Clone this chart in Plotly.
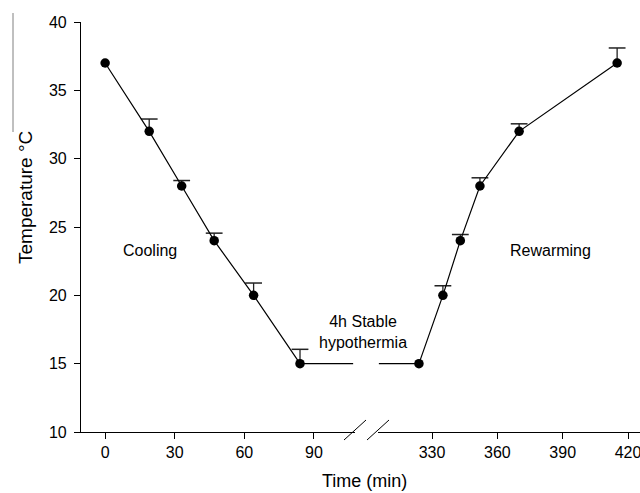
import plotly.graph_objects as go

# ---- data ----
cool_time = [0, 19, 33, 47, 64, 84]
cool_temp = [37, 32, 28, 24, 20, 15]
cool_err = [0, 0.9, 0.4, 0.55, 0.9, 1.05]

rewarm_time = [324, 335, 343, 352, 370, 415]
rewarm_temp = [15, 20, 24, 28, 32, 37]
rewarm_err = [0, 0.7, 0.45, 0.6, 0.55, 1.1]

left_ticks = [0, 30, 60, 90]
right_ticks = [330, 360, 390, 420]
y_ticks = [10, 15, 20, 25, 30, 35, 40]

left_range = [-10.4, 107.7]
right_range = [305.2, 425.5]

FONT = "Arial, Liberation Sans, sans-serif"
W, H = 640, 493
ML, MR, MT, MB = 81, 0, 22, 61
PW = W - ML - MR
PH = H - MT - MB

def px(p):
    return (p - ML) / PW

def py(q):
    return (H - MB - q) / PH

left_dom = [0, px(355)]
right_dom = [px(378), 1]

fig = go.Figure()

def add_series(t, v, e, xa):
    # error stems (upper only)
    fig.add_trace(go.Scatter(
        x=t, y=v, xaxis=xa, yaxis="y", mode="markers",
        marker=dict(size=1, color="rgba(0,0,0,0)"),
        error_y=dict(type="data", symmetric=False, array=e,
                     arrayminus=[0] * len(e), width=0,
                     thickness=1.3, color="#222"),
        showlegend=False, hoverinfo="skip"))
    # caps
    tops = [a + b for a, b in zip(v, e)]
    ct = [a for a, b in zip(t, e) if b > 0]
    cv = [a for a, b in zip(tops, e) if b > 0]
    fig.add_trace(go.Scatter(
        x=ct, y=cv, xaxis=xa, yaxis="y", mode="markers",
        marker=dict(symbol="line-ew", size=12,
                    line=dict(width=1.5, color="#222")),
        showlegend=False, hoverinfo="skip", cliponaxis=False))
    # line + points
    fig.add_trace(go.Scatter(
        x=t, y=v, xaxis=xa, yaxis="y", mode="lines+markers",
        line=dict(color="black", width=1.2),
        marker=dict(size=9.5, color="black"),
        showlegend=False, cliponaxis=False))

# stable-hypothermia plateau lines
fig.add_trace(go.Scatter(
    x=[cool_time[-1], left_range[1] - 0.8], y=[cool_temp[-1]] * 2,
    xaxis="x", yaxis="y", mode="lines",
    line=dict(color="black", width=1.2), showlegend=False))
fig.add_trace(go.Scatter(
    x=[right_range[0] + 0.4, rewarm_time[0]], y=[rewarm_temp[0]] * 2,
    xaxis="x2", yaxis="y", mode="lines",
    line=dict(color="black", width=1.2), showlegend=False))

add_series(cool_time, cool_temp, cool_err, "x")
add_series(rewarm_time, rewarm_temp, rewarm_err, "x2")

axis_common = dict(
    showline=True, linecolor="black", linewidth=1.2,
    ticks="outside", ticklen=6, tickwidth=1, tickcolor="black",
    showgrid=False, zeroline=False, automargin=False,
    ticklabeloverflow="allow",
    tickfont=dict(family=FONT, size=16, color="black"),
)

fig.update_layout(
    width=W, height=H,
    margin=dict(l=ML, r=MR, t=MT, b=MB, autoexpand=False),
    paper_bgcolor="white", plot_bgcolor="white",
    xaxis=dict(domain=left_dom, range=left_range, tickvals=left_ticks,
               anchor="y", **axis_common),
    xaxis2=dict(domain=right_dom, range=right_range, tickvals=right_ticks,
                anchor="y", **axis_common),
    yaxis=dict(range=[10, 40], tickvals=y_ticks, anchor="x",
               ticklabelstandoff=4, **axis_common),
)

# break marks
for c in (355, 378):
    fig.add_shape(type="line", xref="paper", yref="paper",
                  x0=px(c - 11), y0=py(440), x1=px(c + 11), y1=py(420),
                  line=dict(color="black", width=1))

# stray vertical line left of the y title
fig.add_shape(type="line", xref="paper", yref="paper",
              x0=px(13), y0=py(13), x1=px(13), y1=py(132),
              line=dict(color="#808080", width=1))

def ann(text, x, y, size=16, angle=0):
    fig.add_annotation(text=text, xref="paper", yref="paper",
                       x=px(x), y=py(y), xanchor="center", yanchor="middle",
                       textangle=angle, showarrow=False,
                       font=dict(family=FONT, size=size, color="black"))

ann("Cooling", 150, 250)
ann("Rewarming", 550, 250)
ann("4h Stable<br>hypothermia", 363, 332)
ann("Time (min)", 364, 481, size=18)
ann("Temperature °C", 25, 198, size=19, angle=-90)

fig.write_html("out.html",
               config={"displayModeBar": False},
               post_script="document.body.style.margin='0';"
                           "document.body.style.overflow='hidden';")
